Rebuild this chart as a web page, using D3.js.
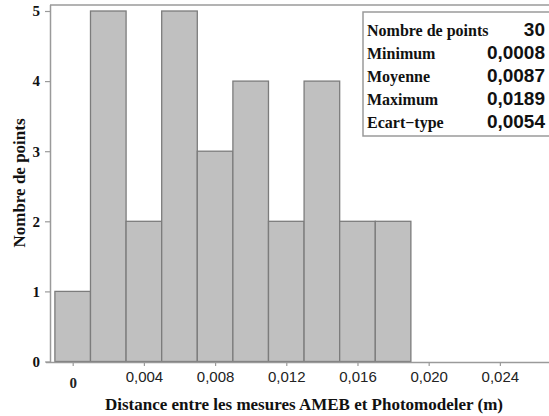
<!DOCTYPE html>
<html>
<head>
<meta charset="utf-8">
<script src="https://cdn.jsdelivr.net/npm/d3@7"></script>
<title>Histogramme</title>
<style>
  body { margin: 0; background: #fff; }
  svg { display: block; }
</style>
</head>
<body>
<script>
// classes de l'histogramme (centres, largeur 0,002 m)
var binCenters = [0, 0.002, 0.004, 0.006, 0.008, 0.010, 0.012, 0.014, 0.016, 0.018];
var counts = [1, 5, 2, 5, 3, 4, 2, 4, 2, 2];
var binWidth = 0.002;

var xTicks = [0, 0.004, 0.008, 0.012, 0.016, 0.020, 0.024];
var yTicks = [0, 1, 2, 3, 4, 5];

var statLabels = ["Nombre de points", "Minimum", "Moyenne", "Maximum", "Ecart\u2212type"];
var statValues = ["30", "0,0008", "0,0087", "0,0189", "0,0054"];

var W = 549, H = 416;
var serif = "'Liberation Serif', 'DejaVu Serif', serif";
var sans = "'Liberation Sans', Arial, sans-serif";
var axisCol = "#9a9a9a";

var svg = d3.select("body").append("svg")
    .attr("width", W)
    .attr("height", H);

var x = d3.scaleLinear().domain([-0.001275, 0.02676]).range([50, 549]);
var y = d3.scaleLinear().domain([0, 5]).range([361.5, 11]);

// cadre haut
svg.append("line")
    .attr("x1", 50).attr("x2", W)
    .attr("y1", 5).attr("y2", 5)
    .attr("stroke", axisCol).attr("stroke-width", 1.5);

// barres
svg.selectAll("rect.bar")
    .data(counts)
    .enter()
    .append("rect")
    .attr("class", "bar")
    .attr("x", function(d, i) { return x(binCenters[i] - binWidth / 2); })
    .attr("width", function(d, i) { return x(binCenters[i] + binWidth / 2) - x(binCenters[i] - binWidth / 2); })
    .attr("y", function(d) { return y(d); })
    .attr("height", function(d) { return y(0) - y(d); })
    .attr("fill", "#c0c0c0")
    .attr("stroke", "#7c7c7c")
    .attr("stroke-width", 1.3);

// axe y
var yAxis = svg.append("g")
    .attr("transform", "translate(50,0)")
    .call(d3.axisLeft(y).tickValues(yTicks).tickFormat(d3.format("d")).tickSize(5).tickPadding(5));
yAxis.select(".domain").attr("stroke", axisCol).attr("stroke-width", 1.5)
    .attr("d", "M0.5,5V362");
yAxis.selectAll(".tick line").attr("stroke", axisCol).attr("stroke-width", 1.2);
yAxis.selectAll(".tick text")
    .attr("fill", "#111")
    .style("font-family", serif)
    .style("font-weight", "bold")
    .style("font-size", "15px");

// axe x
var xAxis = svg.append("g")
    .attr("transform", "translate(0,362)")
    .call(d3.axisBottom(x).tickValues(xTicks)
        .tickFormat(function(d) { return d === 0 ? "0" : d3.format(".3f")(d).replace(".", ","); })
        .tickSize(4).tickPadding(5));
xAxis.select(".domain").attr("stroke", axisCol).attr("stroke-width", 1.5)
    .attr("d", "M46,0.5H" + W);
xAxis.selectAll(".tick line").attr("stroke", axisCol).attr("stroke-width", 1.2);
xAxis.selectAll(".tick text")
    .attr("fill", "#222")
    .style("font-family", sans)
    .style("font-size", "15px");
xAxis.selectAll(".tick text")
    .filter(function(d) { return d === 0; })
    .attr("dy", "1.15em")
    .style("font-family", serif)
    .style("font-weight", "bold");

// titres des axes
svg.append("text")
    .attr("x", 304)
    .attr("y", 410)
    .attr("text-anchor", "middle")
    .attr("fill", "#111")
    .style("font-family", serif)
    .style("font-weight", "bold")
    .style("font-size", "17px")
    .text("Distance entre les mesures AMEB et Photomodeler (m)");

svg.append("text")
    .attr("transform", "translate(25,183) rotate(-90)")
    .attr("text-anchor", "middle")
    .attr("fill", "#111")
    .style("font-family", serif)
    .style("font-weight", "bold")
    .style("font-size", "17px")
    .text("Nombre de points");

// encadré des statistiques
var legend = svg.append("g");
legend.append("path")
    .attr("d", "M" + W + ",12H363V136H" + W)
    .attr("fill", "#fff")
    .attr("stroke", axisCol)
    .attr("stroke-width", 1.5);

var rows = legend.selectAll("g.row")
    .data(statLabels)
    .enter()
    .append("g")
    .attr("class", "row")
    .attr("transform", function(d, i) { return "translate(0," + (35.5 + i * 23.2) + ")"; });

rows.append("text")
    .attr("x", 367)
    .attr("fill", "#111")
    .style("font-family", serif)
    .style("font-weight", "bold")
    .style("font-size", "16px")
    .text(function(d) { return d; });

rows.append("text")
    .attr("x", 545)
    .attr("text-anchor", "end")
    .attr("fill", "#111")
    .style("font-family", sans)
    .style("font-weight", "bold")
    .style("font-size", "19px")
    .text(function(d, i) { return statValues[i]; });
</script>
</body>
</html>
